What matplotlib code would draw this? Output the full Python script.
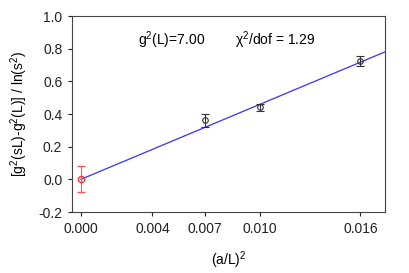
import numpy as np
import matplotlib
matplotlib.use("Agg")
import matplotlib.pyplot as plt

plt.rcParams['font.family'] = ['Liberation Sans', 'DejaVu Sans']
plt.rcParams['mathtext.fontset'] = 'custom'
plt.rcParams['mathtext.rm'] = 'Liberation Sans'
plt.rcParams['mathtext.it'] = 'Liberation Sans:italic'

# data points (a/L)^2 and ratio with errors
x_pts = [1 / 144, 1 / 100, 1 / 64]
y_pts = [0.361, 0.441, 0.724]
y_err = [0.04, 0.02, 0.03]
# extrapolated continuum point
x_cont = [0.0]
y_cont = [0.0]
err_cont = [0.08]
# linear fit
fit_slope = 45.9
fit_x = [0.0, 0.0175]

tick_pos = [0.0, 0.004, 1 / 144, 1 / 100, 1 / 64]
tick_labels = ['0.000', '0.004', '0.007', '0.010', '0.016']

fig = plt.figure(figsize=(4.09, 2.73), dpi=100)
ax = fig.add_axes([72 / 409, 1 - 212 / 273, (385 - 72) / 409, (212 - 16) / 273])

fx = np.array(fit_x)
ax.plot(fx, fit_slope * fx, color='#3333ff', lw=0.9, zorder=2)
ax.errorbar(x_pts, y_pts, yerr=y_err, fmt='o', mfc='none', mec='#333333',
            ecolor='#333333', ms=4, mew=0.8, elinewidth=0.8, capsize=3, zorder=3)
ax.errorbar(x_cont, y_cont, yerr=err_cont, fmt='o', mfc='none', mec='#ff3333',
            ecolor='#ff5555', ms=4.5, mew=1.0, elinewidth=0.8, capsize=3, zorder=3)

ax.set_xlim(-0.0005, 0.017)
ax.set_ylim(-0.2, 1.0)
ax.set_xticks(tick_pos)
ax.set_xticklabels(tick_labels)
ax.set_yticks(np.arange(-0.2, 1.01, 0.2))
ax.set_yticklabels(['-0.2', '0.0', '0.2', '0.4', '0.6', '0.8', '1.0'])
ax.tick_params(direction='out', length=3, width=0.8, labelsize=10, pad=4, colors='#222222')
for s in ax.spines.values():
    s.set_color('#444444')
    s.set_linewidth(0.8)

ax.set_xlabel(r'(a/L)$^2$', fontsize=10, labelpad=10)
ax.set_ylabel(r'[g$^2$(sL)-g$^2$(L)] / ln(s$^2$)', fontsize=10, labelpad=6)

ax.text(0.0032, 0.85, r'g$^2$(L)=7.00', fontsize=10, ha='left', va='center')
ax.text(0.0086, 0.85, r'χ$^2$/dof = 1.29', fontsize=10, ha='left', va='center')

fig.savefig('out.png', dpi=100)
